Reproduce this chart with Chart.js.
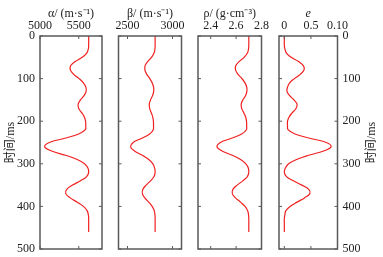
<!DOCTYPE html>
<html>
<head>
<meta charset="utf-8">
<script src="https://cdn.jsdelivr.net/npm/chart.js@4"></script>
<style>
html, body { margin: 0; padding: 0; background: #fff; }
#wrap { position: relative; width: 383px; height: 257px; }
#wrap canvas { position: absolute; left: 0; top: 0; }
</style>
</head>
<body>
<div id="wrap">
  <canvas id="c1" width="383" height="257"></canvas>
  <canvas id="c2" width="383" height="257"></canvas>
  <canvas id="c3" width="383" height="257"></canvas>
  <canvas id="c4" width="383" height="257"></canvas>
</div>
<script>
// time samples (ms) and the four logs
const times = [0,10,20,30,40,50,60,70,80,90,100,110,120,130,140,150,160,170,180,190,200,210,220,230,240,250,260,270,280,290,300,310,320,330,340,350,360,370,380,390,400,410,420,430,440,450,460];
const alpha = [5628,5628,5628,5624,5603,5545,5455,5395,5392,5435,5505,5560,5592,5595,5568,5522,5492,5500,5538,5572,5588,5590,5585,5500,5320,5120,5060,5150,5330,5480,5575,5618,5628,5602,5522,5420,5345,5332,5390,5480,5560,5608,5624,5628,5628,5628,5628];
const beta = [2807,2807,2807,2805,2795,2767,2724,2695,2694,2714,2748,2774,2790,2791,2778,2756,2742,2746,2764,2780,2788,2789,2786,2746,2659,2563,2534,2578,2664,2736,2782,2802,2807,2795,2756,2707,2671,2665,2693,2736,2774,2797,2805,2807,2807,2807,2807];
const rho = [2.700,2.700,2.700,2.698,2.689,2.663,2.624,2.597,2.596,2.615,2.646,2.670,2.684,2.685,2.674,2.653,2.640,2.644,2.660,2.675,2.682,2.683,2.681,2.644,2.564,2.476,2.450,2.490,2.569,2.635,2.677,2.696,2.700,2.689,2.653,2.608,2.575,2.570,2.595,2.635,2.670,2.691,2.698,2.700,2.700,2.700,2.700];
const eVals = [0,0,0,0.001,0.004,0.013,0.027,0.036,0.037,0.030,0.019,0.010,0.006,0.005,0.010,0.018,0.024,0.022,0.015,0.009,0.006,0.006,0.007,0.020,0.048,0.079,0.088,0.074,0.046,0.023,0.008,0.002,0,0.004,0.017,0.033,0.046,0.048,0.038,0.024,0.011,0.003,0.001,0,0,0,0];

const timeTicks = [0,100,200,300,400,500];
const alphaTicks = [5000,5500];
const betaTicks = [2500,3000];
const rhoTicks = [2.4,2.6,2.8];
const rhoTickLabels = ["2.4","2.6","2.8"];
const eTicks = [0,0.05,0.10];
const eTickLabels = ["0","0.5","0.10"];

const yTitle = "时间/ms";
const FONT = "'Liberation Serif', 'Noto Sans CJK SC', serif";

Chart.defaults.font.family = FONT;
Chart.defaults.font.size = 12;
Chart.defaults.color = "#222";

// box round the plot area, with short ticks pointing inward
const framePlugin = {
  id: "frame",
  afterDraw(chart) {
    const { ctx, chartArea: a, scales } = chart;
    ctx.save();
    ctx.strokeStyle = "#5a5a5a";
    ctx.lineWidth = 1.5;
    ctx.strokeRect(a.left, a.top, a.right - a.left, a.bottom - a.top);
    ctx.lineWidth = 1;
    ctx.beginPath();
    scales.x.ticks.forEach(t => {
      const px = scales.x.getPixelForValue(t.value);
      ctx.moveTo(px, a.top); ctx.lineTo(px, a.top + 3);
      ctx.moveTo(px, a.bottom); ctx.lineTo(px, a.bottom - 3);
    });
    timeTicks.forEach(v => {
      const py = scales.y.getPixelForValue(v);
      ctx.moveTo(a.left, py); ctx.lineTo(a.left + 3, py);
      ctx.moveTo(a.right, py); ctx.lineTo(a.right - 3, py);
    });
    ctx.stroke();
    ctx.restore();
  }
};

// right-hand time title reads bottom to top, like the left one
const rightTitlePlugin = {
  id: "rightTitle",
  afterDraw(chart) {
    const { ctx, chartArea: a } = chart;
    ctx.save();
    ctx.translate(372, (a.top + a.bottom) / 2);
    ctx.rotate(-Math.PI / 2);
    ctx.font = "12px " + FONT;
    ctx.fillStyle = "#222";
    ctx.textAlign = "center";
    ctx.textBaseline = "middle";
    ctx.fillText(yTitle, 0, 0);
    ctx.restore();
  }
};

function panel(id, vals, p) {
  const plugins = [framePlugin];
  if (p.yRight) plugins.push(rightTitlePlugin);
  return new Chart(id, {
    type: "scatter",
    data: {
      datasets: [{
        data: times.map((t, i) => ({ x: vals[i], y: t })),
        showLine: true,
        borderColor: "#f02020",
        borderWidth: 1.2,
        pointRadius: 0,
        tension: 0.4,
        fill: false
      }]
    },
    options: {
      responsive: false,
      animation: false,
      events: [],
      layout: { padding: { left: p.left, right: p.right, top: 0, bottom: 8 } },
      plugins: { legend: { display: false }, tooltip: { enabled: false } },
      scales: {
        x: {
          type: "linear",
          position: "top",
          min: p.min,
          max: p.max,
          afterBuildTicks: s => { s.ticks = p.ticks.map(v => ({ value: v })); },
          afterFit: s => { s.height = 36; s.paddingLeft = 0; s.paddingRight = 0; },
          grid: { display: false, drawTicks: false },
          border: { display: false },
          ticks: {
            padding: 3,
            maxRotation: 0,
            autoSkip: false,
            callback: (v, i) => p.labels ? p.labels[i] : String(v)
          },
          title: {
            display: true,
            text: p.title,
            font: { style: p.italic ? "italic" : "normal" },
            padding: { top: 7, bottom: 0 }
          }
        },
        y: {
          type: "linear",
          display: !!(p.yLeft || p.yRight),
          position: p.yRight ? "right" : "left",
          reverse: true,
          min: 0,
          max: 500,
          afterBuildTicks: s => { s.ticks = timeTicks.map(v => ({ value: v })); },
          afterFit: s => {
            if (p.yWidth) s.width = p.yWidth;
            s.paddingTop = 0; s.paddingBottom = 0;
          },
          grid: { display: false, drawTicks: false },
          border: { display: false },
          ticks: { padding: 5 },
          title: { display: !!p.yLeft, text: yTitle, padding: { top: 4, bottom: 0 } }
        }
      }
    },
    plugins: plugins
  });
}

panel("c1", alpha, { min: 5000, max: 5800, ticks: alphaTicks, title: "α/ (m·s⁻¹)",
  left: 0, right: 281, yLeft: true, yWidth: 40 });
panel("c2", beta, { min: 2400, max: 3100, ticks: betaTicks, title: "β/ (m·s⁻¹)",
  left: 118.5, right: 201.5 });
panel("c3", rho, { min: 2.3, max: 2.8, ticks: rhoTicks, labels: rhoTickLabels, title: "ρ/ (g·cm⁻³)",
  left: 198, right: 121.5 });
panel("c4", eVals, { min: -0.01, max: 0.10, ticks: eTicks, labels: eTickLabels, title: "e",
  italic: true, left: 279, right: 0, yRight: true, yWidth: 45.5 });
</script>
</body>
</html>
